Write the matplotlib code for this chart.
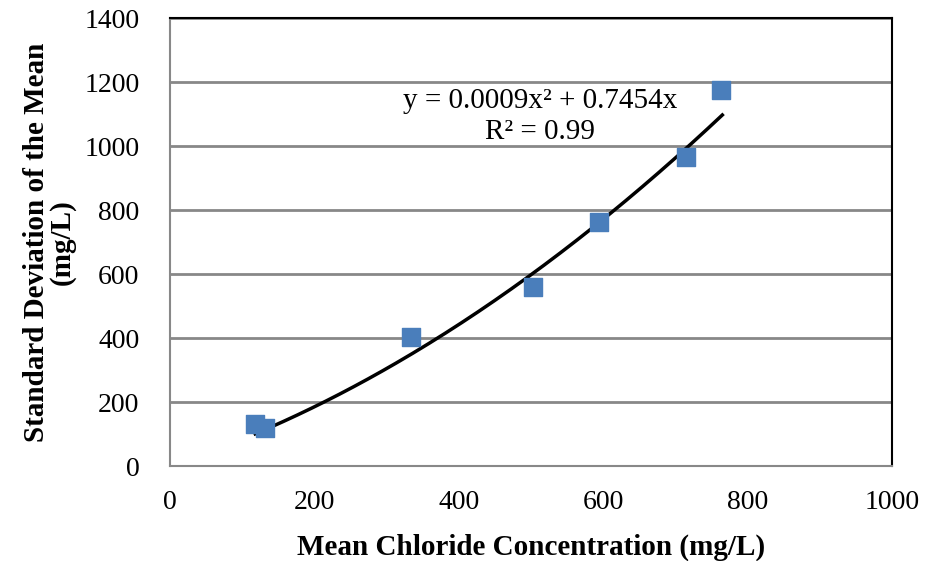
import numpy as np
import matplotlib.pyplot as plt

plt.rcParams["font.family"] = ["Liberation Serif", "DejaVu Serif"]

mean_cl = [118, 132, 334, 503, 594, 715, 763]
std_mean = [131, 119, 403, 559, 762, 966, 1175]
coef_a, coef_b = 0.0009, 0.7454
fit_x = np.linspace(118, 765, 200)
fit_y = coef_a * fit_x**2 + coef_b * fit_x

fig = plt.figure(figsize=(9.28, 5.61), dpi=100)
ax = fig.add_axes([0.1832, 0.1693, 0.778, 0.7986])

ax.plot(fit_x, fit_y, color="black", lw=2.5, zorder=2)
ax.scatter(mean_cl, std_mean, marker="s", s=170, color="#4a7ebb", zorder=3)

ax.set_xlim(0, 1000)
ax.set_ylim(0, 1400)
ax.set_xticks(range(0, 1001, 200))
ax.set_yticks(range(0, 1401, 200))
ax.tick_params(length=0, labelsize=20)
ax.tick_params(axis="x", pad=17)
ax.tick_params(axis="y", pad=22)
ax.yaxis.grid(True, color="#888888", lw=2)
ax.set_axisbelow(True)
for side in ("left", "bottom"):
    ax.spines[side].set_color("#888888")
    ax.spines[side].set_linewidth(1.5)
for side in ("top", "right"):
    ax.spines[side].set_color("black")
    ax.spines[side].set_linewidth(1.5)

ax.set_xlabel("Mean Chloride Concentration (mg/L)", fontsize=21, fontweight="bold", labelpad=14)
ax.set_ylabel("Standard Deviation of the Mean\n(mg/L)", fontsize=21, fontweight="bold",
              labelpad=6, linespacing=0.95)

ax.text(513, 1092, "y = 0.0009x² + 0.7454x\nR² = 0.99", fontsize=21,
        ha="center", va="center", linespacing=1.25)

fig.savefig("out.png", dpi=100)
